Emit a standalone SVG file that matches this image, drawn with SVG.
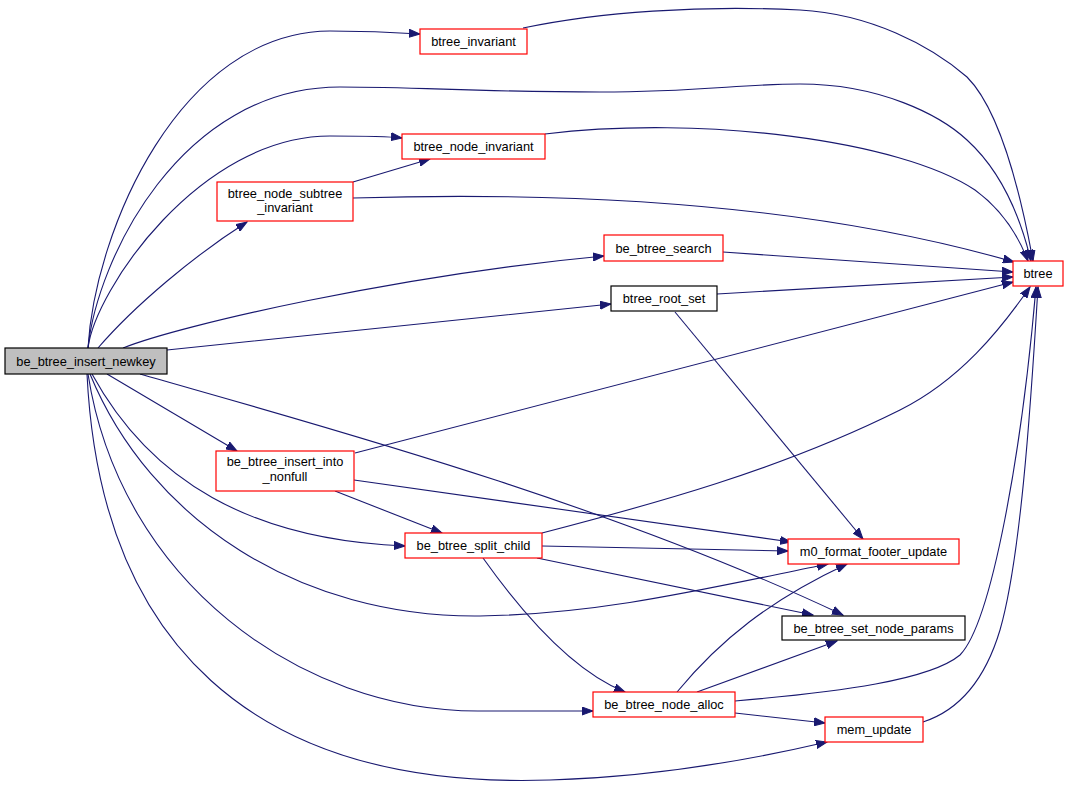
<svg xmlns="http://www.w3.org/2000/svg" width="1069" height="787" viewBox="0 0 1069 787">
<defs>
<marker id="ah" markerWidth="12" markerHeight="9" refX="11" refY="4.5" orient="auto" markerUnits="userSpaceOnUse">
<path d="M0,0.5 L11,4.5 L0,8.5 z" fill="#191970" stroke="#191970" stroke-width="1"/>
</marker>
</defs>
<style>
.e{fill:none;stroke:#191970;stroke-width:1.1;marker-end:url(#ah)}
.r{fill:#ffffff;stroke:#ff0000;stroke-width:1.2}
.k{fill:#ffffff;stroke:#000000;stroke-width:1.2}
.m{fill:#bfbfbf;stroke:#000000;stroke-width:1.2}
text{font-family:"Liberation Sans",Arial,sans-serif;font-size:12.8px;fill:#000000;text-anchor:middle}
</style>
<rect width="1069" height="787" fill="#ffffff"/>
<g id="connectors">
<path class="e" d="M88,348 C95,230 180,32 330,31 C360,31 390,32 420,34"/>
<path class="e" d="M88,348 C97,260 180,87 340,87 C420,87 480,92 600,92 C700,92 740,84 800,84 C880,84 940,115 967,140 C1000,170 1020,215 1031,261"/>
<path class="e" d="M88,348 C95,290 200,136 330,136 C360,136 385,136 402,138"/>
<path class="e" d="M98,348 C135,305 195,255 247,222"/>
<path class="e" d="M123,348 C180,325 400,275 604,256"/>
<path class="e" d="M167,350 C300,336 480,318 611,304"/>
<path class="e" d="M107,374 L237,451"/>
<path class="e" d="M92,374 C150,480 250,540 405,546"/>
<path class="e" d="M90,374 C150,520 300,618 480,616 C600,614 700,590 828,564"/>
<path class="e" d="M140,374 C300,420 600,500 843,615"/>
<path class="e" d="M88,374 C120,580 300,712 480,711 C530,711 570,711 593,711"/>
<path class="e" d="M87,374 C100,640 250,790 550,780 C650,777 750,760 827,742"/>
<path class="e" d="M523,28 C600,12 700,5 800,10 C870,14 930,45 967,77 C1000,110 1020,190 1033,261"/>
<path class="e" d="M545,134 C700,115 900,140 975,190 C1005,212 1020,240 1028,261"/>
<path class="e" d="M353,182 L430,159"/>
<path class="e" d="M353,198 C550,192 800,200 1014,262"/>
<path class="e" d="M723,252 L1013,272"/>
<path class="e" d="M717,294 L1013,277"/>
<path class="e" d="M675,312 L863,539"/>
<path class="e" d="M355,453 L1013,282"/>
<path class="e" d="M335,491 L442,533"/>
<path class="e" d="M354,480 L791,542"/>
<path class="e" d="M542,533 C650,505 780,470 900,410 C960,380 1000,330 1030,287"/>
<path class="e" d="M542,546 L788,551"/>
<path class="e" d="M537,558 L813,615"/>
<path class="e" d="M483,558 C520,610 570,670 625,692"/>
<path class="e" d="M677,692 C720,640 770,600 847,564"/>
<path class="e" d="M697,692 L837,641"/>
<path class="e" d="M735,701 C840,692 930,680 960,655 C992,622 1022,450 1036,287"/>
<path class="e" d="M735,713 L825,723"/>
<path class="e" d="M923,722 C960,710 985,680 1000,630 C1020,560 1030,420 1038,287"/>
</g>
<g id="be_btree_insert_newkey"><rect class="m" x="5" y="348" width="162" height="26"/><text x="86" y="365.5">be_btree_insert_newkey</text></g>
<g id="btree_invariant"><rect class="r" x="420" y="29" width="107" height="25"/><text x="473.5" y="46">btree_invariant</text></g>
<g id="btree_node_invariant"><rect class="r" x="402" y="134" width="143" height="25"/><text x="473.5" y="151">btree_node_invariant</text></g>
<g id="btree_node_subtree_invariant"><rect class="r" x="217" y="182" width="136" height="39"/><text x="285" y="197.5">btree_node_subtree</text><text x="285" y="211.5">_invariant</text></g>
<g id="be_btree_search"><rect class="r" x="604" y="235" width="119" height="26"/><text x="663.5" y="252.5">be_btree_search</text></g>
<g id="btree_root_set"><rect class="k" x="611" y="286" width="106" height="25"/><text x="664" y="303">btree_root_set</text></g>
<g id="btree"><rect class="r" x="1013" y="261" width="50" height="25"/><text x="1038" y="278">btree</text></g>
<g id="be_btree_insert_into_nonfull"><rect class="r" x="216" y="451" width="138" height="40"/><text x="285" y="465.5">be_btree_insert_into</text><text x="285" y="481">_nonfull</text></g>
<g id="be_btree_split_child"><rect class="r" x="405" y="533" width="137" height="25"/><text x="473.5" y="550">be_btree_split_child</text></g>
<g id="m0_format_footer_update"><rect class="r" x="788" y="539" width="171" height="25"/><text x="873.5" y="556">m0_format_footer_update</text></g>
<g id="be_btree_set_node_params"><rect class="k" x="782" y="616" width="183" height="24"/><text x="873.5" y="632.5">be_btree_set_node_params</text></g>
<g id="be_btree_node_alloc"><rect class="r" x="593" y="692" width="142" height="25"/><text x="664" y="709">be_btree_node_alloc</text></g>
<g id="mem_update"><rect class="r" x="825" y="717" width="98" height="25"/><text x="874" y="734">mem_update</text></g>
</svg>
